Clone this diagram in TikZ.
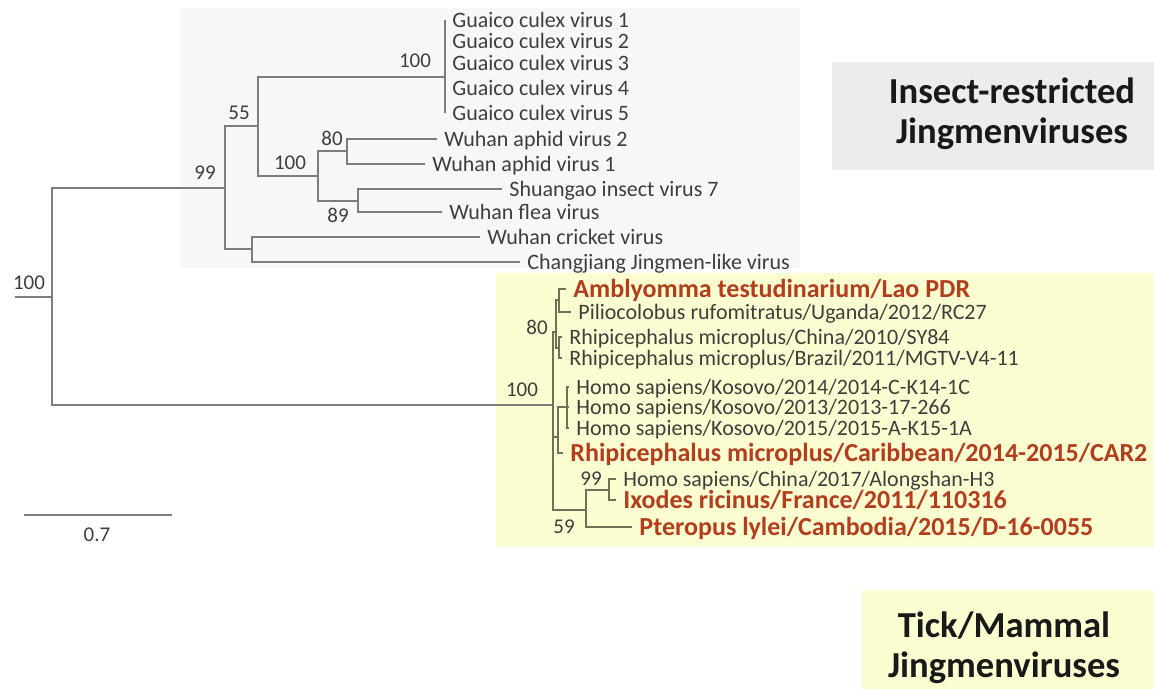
\documentclass[tikz,border=0pt]{standalone}
\usepackage{fontspec}
\setmainfont{Carlito}
\definecolor{branchgray}{RGB}{125,125,125}
\definecolor{tickline}{RGB}{112,112,88}
\definecolor{leafgray}{RGB}{62,62,62}
\definecolor{hostred}{RGB}{178,62,30}
\definecolor{insectbg}{RGB}{247,247,247}
\definecolor{insectlabbg}{RGB}{236,236,236}
\definecolor{tickbg}{RGB}{253,253,210}
\begin{document}
\begin{tikzpicture}[
    x=0.5pt, y=-0.5pt,
    leaf/.style={anchor=west, inner xsep=3.5pt, inner ysep=0pt, text=leafgray, font=\fontsize{11}{11}\selectfont, text height=7.1pt, text depth=0pt},
    hostleaf/.style={leaf, text=hostred, font=\fontsize{13}{13}\selectfont\bfseries, text height=8.4pt},
    boot/.style={inner sep=0pt, text=leafgray, font=\fontsize{10.5}{10.5}\selectfont},
    branch/.style={draw=branchgray, line width=1pt},
    tickbranch/.style={draw=tickline, line width=0.9pt},
    biglabel/.style={align=center, inner sep=0pt, text=black!90, font=\fontsize{18.3}{20}\selectfont\bfseries}
]
    \useasboundingbox (0,0) rectangle (1154,689);
    \fill[insectbg] (180,8) rectangle (800,268);
    \fill[tickbg] (496,273) rectangle (1154,547);
    \fill[insectlabbg] (832,62) rectangle (1154,170);
    \fill[tickbg] (862,590) rectangle (1154,689);

    \node[biglabel] (insectlab) at (1012,114) {Insect-restricted\\Jingmenviruses};
    \node[biglabel] (ticklab) at (1004,648) {Tick/Mammal\\Jingmenviruses};

    \node[leaf] (gc1) at (445,20) {Guaico culex virus 1};
    \node[leaf] (gc2) at (445,41) {Guaico culex virus 2};
    \node[leaf] (gc3) at (445,63) {Guaico culex virus 3};
    \node[leaf] (gc4) at (445,88) {Guaico culex virus 4};
    \node[leaf] (gc5) at (445,113) {Guaico culex virus 5};
    \node[leaf] (wa2) at (437,139) {Wuhan aphid virus 2};
    \node[leaf] (wa1) at (425,164) {Wuhan aphid virus 1};
    \node[leaf] (si7) at (502,189) {Shuangao insect virus 7};
    \node[leaf] (wfv) at (442,212) {Wuhan flea virus};
    \node[leaf] (wcv) at (480,237) {Wuhan cricket virus};
    \node[leaf] (cjv) at (520,262) {Changjiang Jingmen-like virus};

    \node[hostleaf] (amb) at (566,289) {Amblyomma testudinarium/Lao PDR};
    \node[leaf] (pil) at (571,312) {Piliocolobus rufomitratus/Uganda/2012/RC27};
    \node[leaf] (rmc) at (562,337) {Rhipicephalus microplus/China/2010/SY84};
    \node[leaf] (rmb) at (562,358) {Rhipicephalus microplus/Brazil/2011/MGTV-V4-11};
    \node[leaf] (hk14) at (569,387) {Homo sapiens/Kosovo/2014/2014-C-K14-1C};
    \node[leaf] (hk13) at (569,407) {Homo sapiens/Kosovo/2013/2013-17-266};
    \node[leaf] (hk15) at (569,428) {Homo sapiens/Kosovo/2015/2015-A-K15-1A};
    \node[hostleaf] (rmcar) at (563,453) {Rhipicephalus microplus/Caribbean/2014-2015/CAR2};
    \node[leaf] (hcn) at (616,479) {Homo sapiens/China/2017/Alongshan-H3};
    \node[hostleaf] (irf) at (616,500) {Ixodes ricinus/France/2011/110316};
    \node[hostleaf] (plc) at (632,527) {Pteropus lylei/Cambodia/2015/D-16-0055};

    \coordinate (rootl) at (15,297);
    \coordinate (root) at (52,297);
    \coordinate (n99) at (225,188);
    \coordinate (n55) at (258,126);
    \coordinate (ngc) at (445,77);
    \coordinate (n100b) at (318,176);
    \coordinate (n80) at (347,151);
    \coordinate (n89) at (358,201);
    \coordinate (ncr) at (252,249);
    \coordinate (n100t) at (553,405);
    \coordinate (n80t) at (556,332);
    \coordinate (pab) at (559,300);
    \coordinate (pcb) at (559,348);
    \coordinate (gkc) at (558,437);
    \coordinate (nhk) at (567,407);
    \coordinate (n59) at (586,510);
    \coordinate (n99t) at (609,490);

    \draw[branch] (rootl) -- (root);
    \draw[branch] (n99) -| (root) |- (n100t);
    \draw[branch] (n55) -| (n99) |- (ncr);
    \draw[branch] (ngc) -| (n55) |- (n100b);
    \draw[branch] (gc1.west) -- (gc5.west);
    \draw[branch] (n80) -| (n100b) |- (n89);
    \draw[branch] (wa2.west) -| (n80) |- (wa1.west);
    \draw[branch] (si7.west) -| (n89) |- (wfv.west);
    \draw[branch] (wcv.west) -| (ncr) |- (cjv.west);

    \draw[tickbranch] (n80t) -| (n100t) |- (n59);
    \draw[tickbranch] (n100t) |- (gkc);
    \draw[tickbranch] (pab) -| (n80t) |- (pcb);
    \draw[tickbranch] (amb.west) -| (pab) |- (pil.west);
    \draw[tickbranch] (rmc.west) -| (pcb) |- (rmb.west);
    \draw[tickbranch] (nhk) -| (gkc) |- (rmcar.west);
    \draw[tickbranch] (hk14.west) -| (nhk) |- (hk15.west);
    \draw[tickbranch] (nhk) -- (hk13.west);
    \draw[tickbranch] (n99t) -| (n59) |- (plc.west);
    \draw[tickbranch] (hcn.west) -| (n99t) |- (irf.west);

    \node[boot] (b100r) at (29,283) {100};
    \node[boot] (b99) at (205,173) {99};
    \node[boot] (b55) at (239,113) {55};
    \node[boot] (b100g) at (415,61) {100};
    \node[boot] (b100w) at (290,163) {100};
    \node[boot] (b80) at (332,138) {80};
    \node[boot] (b89) at (338,215) {89};
    \node[boot] (b100t) at (522,390) {100};
    \node[boot] (b80t) at (537,327) {80};
    \node[boot] (b99t) at (591,479) {99};
    \node[boot] (b59) at (564,527) {59};

    \coordinate (sbl) at (24,515);
    \coordinate (sbr) at (172,515);
    \draw[branch] (sbl) -- (sbr);
    \node[boot] (sblab) at (97,535) {0.7};
\end{tikzpicture}
\end{document}
